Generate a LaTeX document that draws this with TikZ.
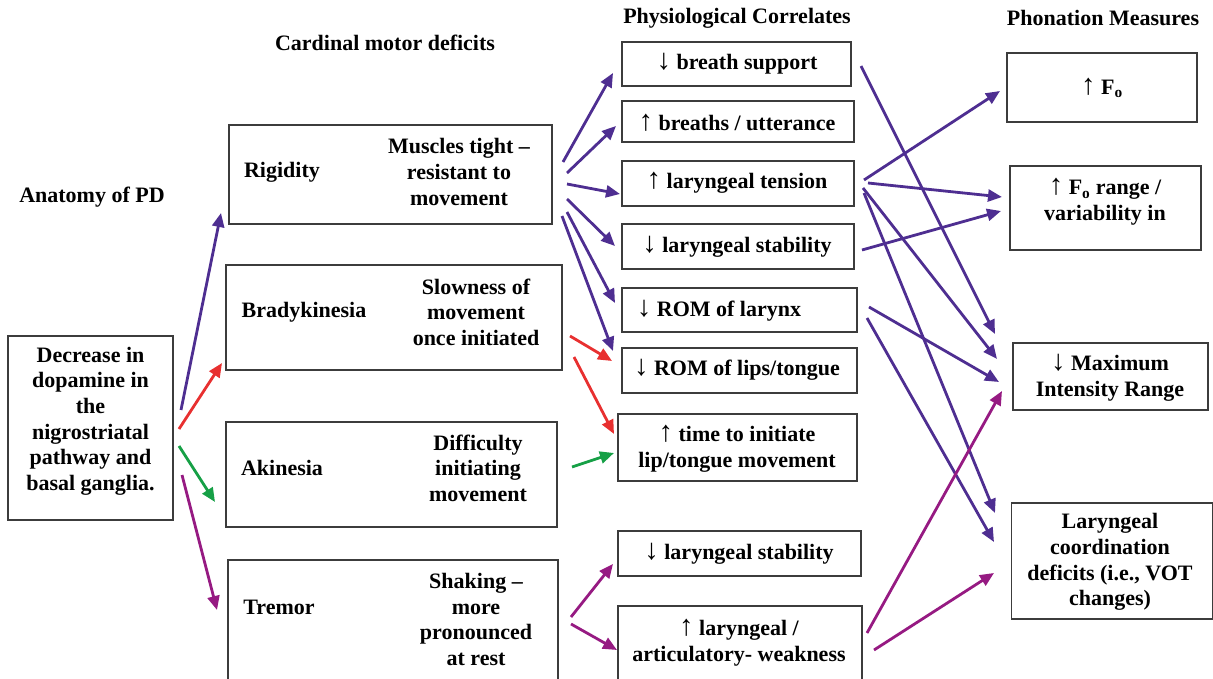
\documentclass[tikz,border=0pt]{standalone}
\usepackage{fontspec}
\setmainfont{Liberation Serif}
\usetikzlibrary{arrows.meta}
\definecolor{cpur}{RGB}{78,46,145}
\definecolor{cred}{RGB}{232,48,48}
\definecolor{cgrn}{RGB}{22,160,70}
\definecolor{cmag}{RGB}{150,26,130}
\definecolor{cbox}{RGB}{60,60,60}
\newcommand{\dnar}{{\mdseries\fontsize{29}{25.6}\selectfont ↓}}
\newcommand{\upar}{{\mdseries\fontsize{29}{25.6}\selectfont ↑}}
\begin{document}
\begin{tikzpicture}[x=1pt,y=-1pt,
  box/.style={draw=cbox,line width=1.4pt,rectangle,inner sep=0pt},
  txt/.style={align=center,inner sep=0pt,font=\fontsize{22}{25.6}\selectfont\bfseries},
  conn/.style={line width=2.8pt,-{Triangle[length=14pt,width=12pt]}},
  pur/.style={conn,draw=cpur,fill=cpur},
  red/.style={conn,draw=cred,fill=cred},
  grn/.style={conn,draw=cgrn,fill=cgrn},
  mag/.style={conn,draw=cmag,fill=cmag}]
\useasboundingbox (0,0) rectangle (1213,679);
% titles
\node[txt] (tAna) at (92,197) {Anatomy of PD};
\node[txt] (tCar) at (385,43) {Cardinal motor deficits};
\node[txt] (tPhy) at (737,18) {Physiological Correlates};
\node[txt] (tPho) at (1103,18) {Phonation Measures};
% anatomy
\node[box,minimum width=165,minimum height=184] (dop) at (90.5,428) {};
\node[txt] (dopT) at (90.5,421) {Decrease in\\dopamine in\\the\\nigrostriatal\\pathway and\\basal ganglia.};
% cardinal
\node[box,minimum width=323,minimum height=99] (rig) at (390.5,174.5) {};
\node[txt] (rigL) at (282,172) {Rigidity};
\node[txt] (rigR) at (459,172) {Muscles tight --\\resistant to\\movement};
\node[box,minimum width=336,minimum height=105] (bra) at (394,317.5) {};
\node[txt] (braL) at (304,312) {Bradykinesia};
\node[txt] (braR) at (476,312) {Slowness of\\movement\\once initiated};
\node[box,minimum width=331,minimum height=105] (aki) at (391.5,474.5) {};
\node[txt] (akiL) at (282,468) {Akinesia};
\node[txt] (akiR) at (478,468) {Difficulty\\initiating\\movement};
\node[box,minimum width=330,minimum height=124] (tre) at (393,622) {};
\node[txt] (treL) at (279,607) {Tremor};
\node[txt] (treR) at (476,619.5) {Shaking --\\more\\pronounced\\at rest};
% physiological
\node[box,minimum width=229,minimum height=44] (bs) at (736.5,64) {};
\node[txt] (bsT) at (737,64) {\dnar\ breath support};
\node[box,minimum width=232,minimum height=41] (bu) at (738,121.5) {};
\node[txt] (buT) at (737,123) {\upar\ breaths / utterance};
\node[box,minimum width=232,minimum height=45] (lt) at (738,183.5) {};
\node[txt] (ltT) at (737,183) {\upar\ laryngeal tension};
\node[box,minimum width=232,minimum height=45] (ls) at (738,246.5) {};
\node[txt] (lsT) at (737,247) {\dnar\ laryngeal stability};
\node[box,minimum width=235,minimum height=44] (rl) at (739.5,310) {};
\node[txt] (rlT) at (719,311) {\dnar\ ROM of larynx};
\node[box,minimum width=235,minimum height=45] (rlt) at (739.5,370.5) {};
\node[txt] (rltT) at (737,370) {\dnar\ ROM of lips/tongue};
\node[box,minimum width=239,minimum height=67] (ti) at (737.5,447.5) {};
\node[txt] (tiT) at (737,449) {\upar\ time to initiate\\lip/tongue movement};
\node[box,minimum width=243,minimum height=45] (ls2) at (739.5,553.5) {};
\node[txt] (ls2T) at (739,554) {\dnar\ laryngeal stability};
\node[box,minimum width=244,minimum height=80] (wk) at (740,646) {};
\node[txt] (wkT) at (739,643) {\upar\ laryngeal /\\articulatory- weakness};
% phonation
\node[box,minimum width=190,minimum height=69] (f0) at (1102,87.5) {};
\node[txt] (f0T) at (1102,88) {\upar\ F\textsubscript{o}};
\node[box,minimum width=191,minimum height=84] (f0r) at (1105.5,208) {};
\node[txt] (f0rT) at (1105,202) {\upar\ F\textsubscript{o} range /\\variability in};
\node[box,minimum width=195,minimum height=67] (mir) at (1110.5,376.5) {};
\node[txt] (mirT) at (1110,378) {\dnar\ Maximum\\Intensity Range};
\node[box,minimum width=201,minimum height=116] (lc) at (1112,561) {};
\node[txt] (lcT) at (1110,562) {Laryngeal\\coordination\\deficits (i.e., VOT\\changes)};
% connector end points
\coordinate (d1s) at (181,410); \coordinate (d1e) at (221,213);
\coordinate (d2s) at (179,429); \coordinate (d2e) at (222,363);
\coordinate (d3s) at (179,446); \coordinate (d3e) at (215,502);
\coordinate (d4s) at (182,475); \coordinate (d4e) at (217,610);
\coordinate (r1s) at (563,162); \coordinate (r1e) at (613,73);
\coordinate (r2s) at (567,173); \coordinate (r2e) at (616,126);
\coordinate (r3s) at (567,184); \coordinate (r3e) at (620,194);
\coordinate (r4s) at (567,199); \coordinate (r4e) at (615,246);
\coordinate (r5s) at (567,212); \coordinate (r5e) at (615,303);
\coordinate (r6s) at (562,216); \coordinate (r6e) at (613,351);
\coordinate (b1s) at (570,336); \coordinate (b1e) at (612,361);
\coordinate (b2s) at (574,357); \coordinate (b2e) at (614,434);
\coordinate (a1s) at (572,467); \coordinate (a1e) at (614,453);
\coordinate (t1s) at (571,617); \coordinate (t1e) at (613,564);
\coordinate (t2s) at (571,624); \coordinate (t2e) at (617,650);
\coordinate (p1s) at (861,66);  \coordinate (p1e) at (995,334);
\coordinate (p2s) at (864,180); \coordinate (p2e) at (1000,91);
\coordinate (p3s) at (868,183); \coordinate (p3e) at (1002,197);
\coordinate (p4s) at (862,250); \coordinate (p4e) at (1001,211);
\coordinate (p5s) at (863,188); \coordinate (p5e) at (997,359);
\coordinate (p6s) at (864,193); \coordinate (p6e) at (995,513);
\coordinate (p7s) at (869,307); \coordinate (p7e) at (999,382);
\coordinate (p8s) at (867,318); \coordinate (p8e) at (994,542);
\coordinate (m1s) at (867,633); \coordinate (m1e) at (1002,391);
\coordinate (m2s) at (874,650); \coordinate (m2e) at (994,573);
% connectors
\draw[pur] (d1s) -- (d1e);
\draw[red] (d2s) -- (d2e);
\draw[grn] (d3s) -- (d3e);
\draw[mag] (d4s) -- (d4e);
\foreach \i in {1,...,6} {\draw[pur] (r\i s) -- (r\i e);}
\draw[red] (b1s) -- (b1e);
\draw[red] (b2s) -- (b2e);
\draw[grn] (a1s) -- (a1e);
\draw[mag] (t1s) -- (t1e);
\draw[mag] (t2s) -- (t2e);
\foreach \i in {1,...,8} {\draw[pur] (p\i s) -- (p\i e);}
\draw[mag] (m1s) -- (m1e);
\draw[mag] (m2s) -- (m2e);
\end{tikzpicture}
\end{document}
